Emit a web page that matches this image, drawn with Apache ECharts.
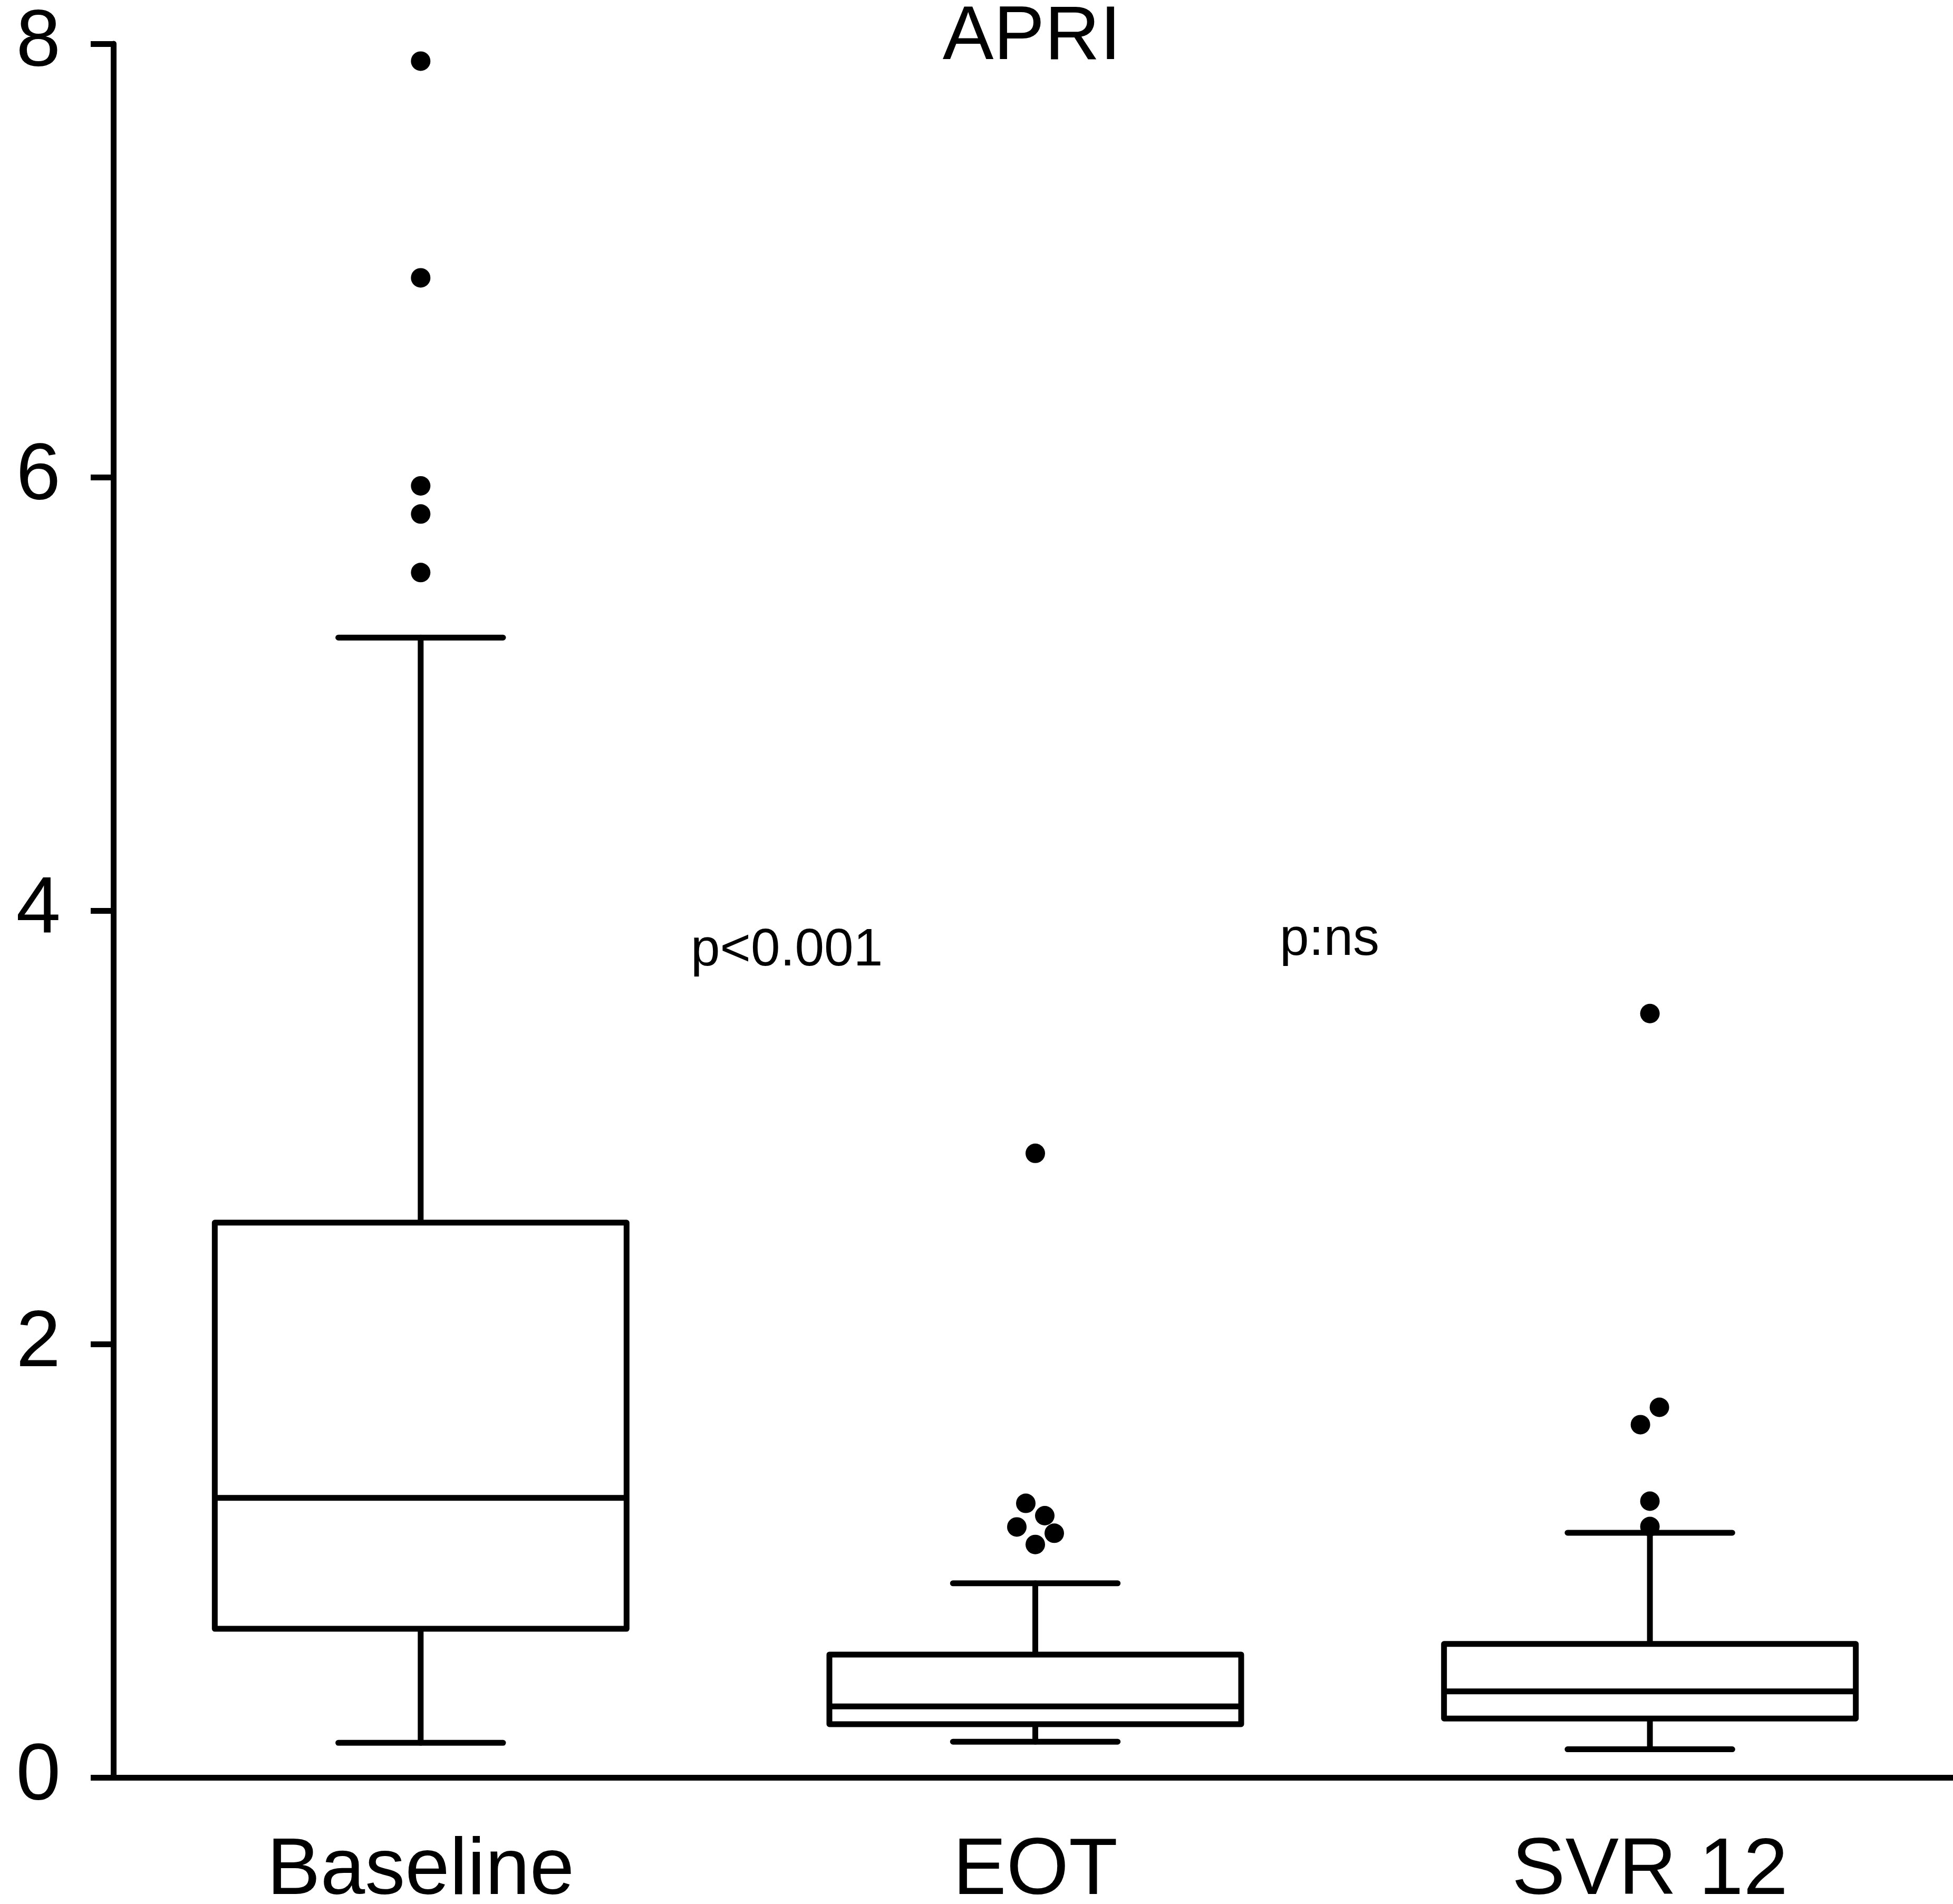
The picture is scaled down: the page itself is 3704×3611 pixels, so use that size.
<!DOCTYPE html>
<html>
<head>
<meta charset="utf-8">
<script src="https://cdn.jsdelivr.net/npm/echarts@6.0.0/dist/echarts.min.js"></script>
<style>
html, body { margin: 0; padding: 0; background: #fff; }
#main { width: 3704px; height: 3611px; }
</style>
</head>
<body>
<div id="main"></div>
<script>
var categories = ['Baseline', 'EOT', 'SVR 12']
var whiskerLow = [0.16, 0.165, 0.13]
var quartile1 = [0.686, 0.246, 0.272]
var median = [1.29, 0.328, 0.397]
var quartile3 = [2.56, 0.567, 0.616]
var whiskerHigh = [5.26, 0.896, 1.129]

var outliersBaseline = [7.92, 6.92, 5.96, 5.83, 5.56]
var outliersEot = [2.88, 1.265, 1.208, 1.156, 1.127, 1.075]
var outliersSvr = [3.525, 1.708, 1.628, 1.275, 1.158]

var yTicks = [0, 2, 4, 6, 8]

// sideways jitter of the dots, in px (style only)
var jitter = [
    [0, 0, 0, 0, 0],
    [0, -18, 18, -35, 36, 0],
    [0, 18, -18, 0, 0],
]

var font = '"Liberation Sans", Arial, sans-serif'

var renderBox = (params, api) => {
    var i = api.value(0)
    var band = api.size([1, 0])[0]
    var half = band * 0.335
    var cap = band * 0.134
    var x = api.coord([i, 0])[0]
    var yLow = api.coord([i, api.value(1)])[1]
    var yQ1 = api.coord([i, api.value(2)])[1]
    var yMed = api.coord([i, api.value(3)])[1]
    var yQ3 = api.coord([i, api.value(4)])[1]
    var yHigh = api.coord([i, api.value(5)])[1]
    var line = {stroke: '#000', lineWidth: 11, lineCap: 'round'}
    return {
        type: 'group',
        children: [
            {type: 'line', shape: {x1: x, y1: yQ3, x2: x, y2: yHigh}, style: line},
            {type: 'line', shape: {x1: x, y1: yQ1, x2: x, y2: yLow}, style: line},
            {type: 'line', shape: {x1: x - cap, y1: yHigh, x2: x + cap, y2: yHigh}, style: line},
            {type: 'line', shape: {x1: x - cap, y1: yLow, x2: x + cap, y2: yLow}, style: line},
            {
                type: 'rect',
                shape: {x: x - half, y: yQ3, width: half * 2, height: yQ1 - yQ3},
                style: {stroke: '#000', fill: '#fff', lineWidth: 11, lineJoin: 'round'},
            },
            {type: 'line', shape: {x1: x - half, y1: yMed, x2: x + half, y2: yMed}, style: {stroke: '#000', lineWidth: 11}},
        ],
    }
}

var boxData = () => {
    var r = []
    for (var i = 0; i < categories.length; i++) {
        r.push([i, whiskerLow[i], quartile1[i], median[i], quartile3[i], whiskerHigh[i]])
    }
    return r
}

var outlierData = () => {
    var groups = [outliersBaseline, outliersEot, outliersSvr]
    var r = []
    for (var i = 0; i < groups.length; i++) {
        var g = groups[i]
        for (var j = 0; j < g.length; j++) {
            r.push({
                value: [i, g[j]],
                symbolOffset: [jitter[i][j] || 0, 0],
            })
        }
    }
    return r
}

var showChart = () => {
    var element = document.querySelector('#main')
    var myChart = echarts.init(element, null, {renderer: 'canvas'})
    var option = {
        animation: false,
        backgroundColor: '#fff',
        grid: {left: 215, right: -8, top: 83, bottom: 240, containLabel: false, outerBoundsMode: 'none'},
        xAxis: {
            type: 'category',
            data: categories,
            boundaryGap: true,
            axisLine: {lineStyle: {color: '#000', width: 11}},
            axisTick: {alignWithLabel: true, length: 37, lineStyle: {color: '#000', width: 11}},
            axisLabel: {
                color: '#000', fontSize: 152, fontFamily: font,
                margin: 103, lineHeight: 152,
            },
            splitLine: {show: false},
        },
        yAxis: {
            type: 'value',
            min: yTicks[0],
            max: yTicks[yTicks.length - 1],
            interval: 2,
            axisLine: {show: true, lineStyle: {color: '#000', width: 11}},
            axisTick: {show: true, length: 43, lineStyle: {color: '#000', width: 11}},
            axisLabel: {color: '#000', fontSize: 152, fontFamily: font, margin: 100},
            splitLine: {show: false},
        },
        graphic: [
            {
                type: 'text', x: 1957, y: 72,
                style: {text: 'APRI', font: '145px ' + font, fill: '#000', textAlign: 'center', textVerticalAlign: 'middle'},
            },
            {
                type: 'text', x: 1310, y: 1803,
                style: {text: 'p<0.001', font: '100px ' + font, fill: '#000', textAlign: 'left', textVerticalAlign: 'middle'},
            },
            {
                type: 'text', x: 2427, y: 1783,
                style: {text: 'p:ns', font: '100px ' + font, fill: '#000', textAlign: 'left', textVerticalAlign: 'middle'},
            },
        ],
        series: [
            {
                type: 'custom',
                renderItem: renderBox,
                encode: {x: 0, y: [1, 2, 3, 4, 5]},
                data: boxData(),
                z: 2,
            },
            {
                type: 'scatter',
                symbol: 'circle',
                symbolSize: 37,
                itemStyle: {color: '#000', opacity: 1},
                data: outlierData(),
                z: 3,
            },
        ],
    }
    myChart.setOption(option)
}

var __main = () => {
    showChart()
}
__main()
</script>
</body>
</html>
